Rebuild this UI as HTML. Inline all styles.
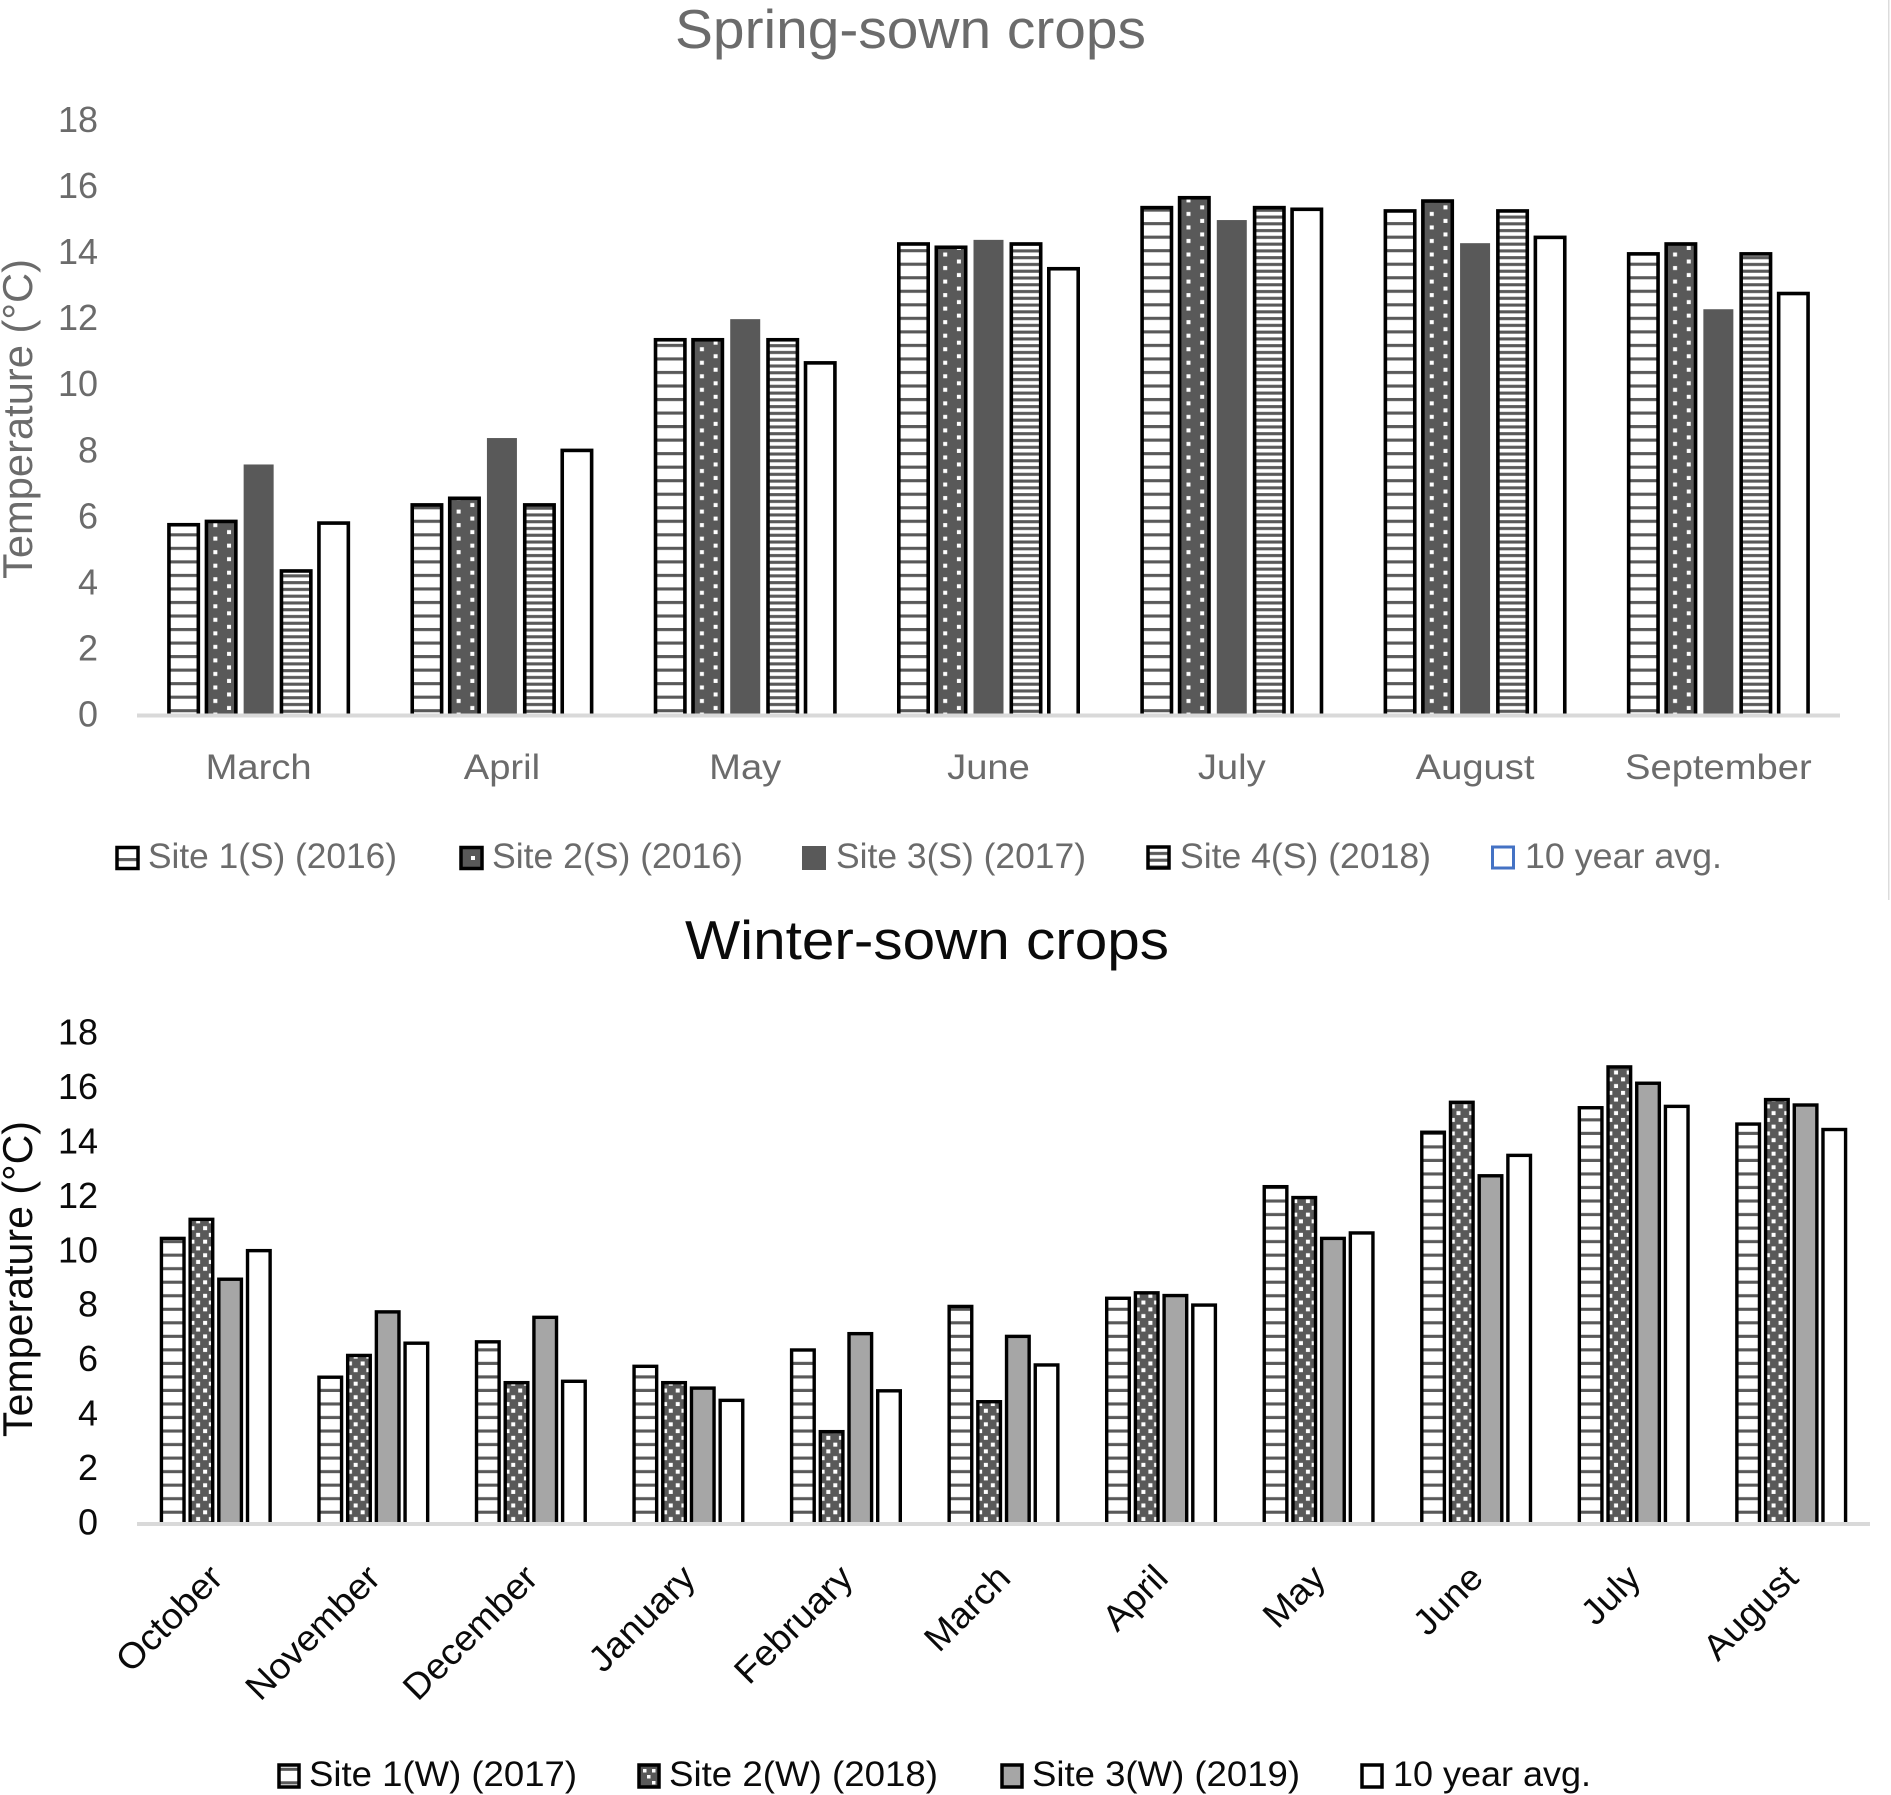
<!DOCTYPE html>
<html lang="en">
<head>
<meta charset="utf-8">
<title>Spring-sown and winter-sown crop temperatures</title>
<style>
html,body{margin:0;padding:0;background:#fff;}
svg{display:block;}
text{font-family:"Liberation Sans",sans-serif;}
.gray{fill:#6b6b6b;}
.dark{fill:#0a0a0a;}
</style>
</head>
<body>
<svg id="root" xmlns="http://www.w3.org/2000/svg" width="1891" height="1795" viewBox="0 0 1891 1795">
  <defs id="defs">
    <pattern id="stripe-wide-top" patternUnits="userSpaceOnUse" x="0" y="713.5" width="10" height="13.53">
      <rect width="10" height="13.53" fill="#fff"/><rect y="9.2" width="10" height="3.1" fill="#595959"/>
    </pattern>
    <pattern id="stripe-fine-top" patternUnits="userSpaceOnUse" x="0" y="713.5" width="10" height="6.77">
      <rect width="10" height="6.77" fill="#fff"/><rect y="3" width="10" height="3.1" fill="#595959"/>
    </pattern>
    <pattern id="stripe-wide-bot" patternUnits="userSpaceOnUse" x="0" y="1522" width="10" height="13.53">
      <rect width="10" height="13.53" fill="#fff"/><rect y="2.2" width="10" height="3.1" fill="#595959"/>
    </pattern>
  </defs>
  <rect width="1891" height="1795" fill="#fff"/>
  <rect x="1888" y="0" width="1.5" height="900" fill="#dcdcdc"/>

  <text class="gray" x="675" y="48" font-size="55" textLength="471" lengthAdjust="spacingAndGlyphs">Spring-sown crops</text>
  <text class="gray" transform="translate(32,579) rotate(-90)" font-size="42" textLength="320" lengthAdjust="spacingAndGlyphs">Temperature (°C)</text>
  <g id="spring"></g>

  <g font-size="35" class="gray">
    <g>
      <rect x="117" y="847.5" width="21" height="21" fill="url(#stripe-wide-top)" stroke="#000" stroke-width="3.5"/>
      <text class="gray" x="148" y="868" textLength="249" lengthAdjust="spacingAndGlyphs">Site 1(S) (2016)</text>
    </g>
    <g>
      <rect x="461" y="847.5" width="21" height="21" fill="#595959" stroke="#000" stroke-width="3.5"/>
      <rect x="471" y="856" width="4" height="4" fill="#fff"/>
      <text class="gray" x="492" y="868" textLength="251" lengthAdjust="spacingAndGlyphs">Site 2(S) (2016)</text>
    </g>
    <g>
      <rect x="802" y="846" width="24" height="24" fill="#595959"/>
      <text class="gray" x="836" y="868" textLength="250" lengthAdjust="spacingAndGlyphs">Site 3(S) (2017)</text>
    </g>
    <g>
      <rect x="1148" y="847" width="21" height="21" fill="url(#stripe-fine-top)" stroke="#000" stroke-width="3.5"/>
      <text class="gray" x="1180" y="868" textLength="251" lengthAdjust="spacingAndGlyphs">Site 4(S) (2018)</text>
    </g>
    <g>
      <rect x="1492.5" y="847" width="21" height="21" fill="#fff" stroke="#4472c4" stroke-width="3"/>
      <text class="gray" x="1525" y="868" textLength="197" lengthAdjust="spacingAndGlyphs">10 year avg.</text>
    </g>
  </g>

  <text class="dark" x="685" y="959" font-size="55" textLength="484" lengthAdjust="spacingAndGlyphs">Winter-sown crops</text>
  <text class="dark" transform="translate(32,1437) rotate(-90)" font-size="42" textLength="316" lengthAdjust="spacingAndGlyphs">Temperature (°C)</text>
  <g id="winter"></g>

  <g font-size="35">
    <g>
      <rect x="279" y="1765" width="20" height="22" fill="url(#stripe-wide-bot)" stroke="#000" stroke-width="3.5"/>
      <text class="dark" x="309" y="1786" textLength="268" lengthAdjust="spacingAndGlyphs">Site 1(W) (2017)</text>
    </g>
    <g>
      <rect x="639" y="1765" width="20" height="22" fill="#595959" stroke="#000" stroke-width="3.5"/>
      <rect x="643" y="1769" width="3.5" height="3.5" fill="#fff"/>
      <rect x="652" y="1769" width="3.5" height="3.5" fill="#fff"/>
      <rect x="647" y="1775" width="3.5" height="3.5" fill="#fff"/>
      <rect x="652" y="1781" width="3.5" height="3.5" fill="#fff"/>
      <text class="dark" x="669" y="1786" textLength="269" lengthAdjust="spacingAndGlyphs">Site 2(W) (2018)</text>
    </g>
    <g>
      <rect x="1002" y="1765" width="20" height="22" fill="#a6a6a6" stroke="#000" stroke-width="3.5"/>
      <text class="dark" x="1032" y="1786" textLength="268" lengthAdjust="spacingAndGlyphs">Site 3(W) (2019)</text>
    </g>
    <g>
      <rect x="1362" y="1765" width="20" height="22" fill="#fff" stroke="#000" stroke-width="3.5"/>
      <text class="dark" x="1393" y="1786" textLength="198" lengthAdjust="spacingAndGlyphs">10 year avg.</text>
    </g>
  </g>
</svg>

<script>
var yTicks = [0, 2, 4, 6, 8, 10, 12, 14, 16, 18];

var springMonths = ["March", "April", "May", "June", "July", "August", "September"];
var springSite1 = [5.8, 6.4, 11.4, 14.3, 15.4, 15.3, 14.0];
var springSite2 = [5.9, 6.6, 11.4, 14.2, 15.7, 15.6, 14.3];
var springSite3 = [7.6, 8.4, 12.0, 14.4, 15.0, 14.3, 12.3];
var springSite4 = [4.4, 6.4, 11.4, 14.3, 15.4, 15.3, 14.0];
var springAvg = [5.85, 8.05, 10.7, 13.55, 15.35, 14.5, 12.8];

var winterMonths = ["October", "November", "December", "January", "February", "March", "April", "May", "June", "July", "August"];
var winterSite1 = [10.5, 5.4, 6.7, 5.8, 6.4, 8.0, 8.3, 12.4, 14.4, 15.3, 14.7];
var winterSite2 = [11.2, 6.2, 5.2, 5.2, 3.4, 4.5, 8.5, 12.0, 15.5, 16.8, 15.6];
var winterSite3 = [9.0, 7.8, 7.6, 5.0, 7.0, 6.9, 8.4, 10.5, 12.8, 16.2, 15.4];
var winterAvg = [10.05, 6.65, 5.25, 4.55, 4.9, 5.85, 8.05, 10.7, 13.55, 15.35, 14.5];

var NS = "http://www.w3.org/2000/svg";
var defs = document.getElementById("defs");
var patternCount = 0;

function svgEl(tag, parent) {
  var el = document.createElementNS(NS, tag);
  parent.appendChild(el);
  return el;
}

function setAll(el, props) {
  for (var k in props) el.setAttribute(k, props[k]);
}

function dotPattern(barLeft, baseY, pw, ph, dots) {
  patternCount += 1;
  var id = "dots-" + patternCount;
  var p = svgEl("pattern", defs);
  setAll(p, {id: id, patternUnits: "userSpaceOnUse", x: barLeft, y: baseY, width: pw, height: ph});
  var bg = svgEl("rect", p);
  setAll(bg, {width: pw, height: ph, fill: "#595959"});
  dots.forEach(function (d) {
    var r = svgEl("rect", p);
    setAll(r, {x: d[0], y: d[1], width: 4, height: 4, fill: "#fff"});
  });
  return "url(#" + id + ")";
}

function drawChart(rootId, cfg, months, seriesList) {
  var root = document.getElementById(rootId);
  var groupW = (cfg.x1 - cfg.x0) / months.length;
  function xCenter(i) { return cfg.x0 + groupW * (i + 0.5); }
  function yScale(v) { return cfg.y0 - v * cfg.unit; }

  yTicks.forEach(function (t) {
    var label = svgEl("text", root);
    setAll(label, {x: 98, y: yScale(t) + 12, "text-anchor": "end", "font-size": 36, fill: cfg.textColor});
    
    
    label.textContent = String(t);
  });

  var n = seriesList.length;
  seriesList.forEach(function (s, si) {
    s.values.forEach(function (v, mi) {
      var left = xCenter(mi) + (si - (n - 1) / 2) * cfg.pitch - cfg.barW / 2;
      var top = yScale(v);
      var bar = svgEl("rect", root);
      var fill = s.fill;
      if (s.dots) fill = dotPattern(left, cfg.dotBase, s.dots.w, s.dots.h, s.dots.list);
      if (s.noStroke) {
        setAll(bar, {x: left + 1.5, y: top + 1, width: cfg.barW - 3, height: cfg.axisY - top, fill: fill});
      } else {
        setAll(bar, {x: left + cfg.sw / 2, y: top + cfg.sw / 2, width: cfg.barW - cfg.sw, height: cfg.axisY - top, fill: fill, stroke: "#000", "stroke-width": cfg.sw});
      }
      
      
    });
  });

  var axis = svgEl("rect", root);
  setAll(axis, {x: cfg.x0, y: cfg.axisY, width: cfg.x1 - cfg.x0, height: 4, fill: "#d9d9d9"});
  
  

  months.forEach(function (m, i) {
    var label = svgEl("text", root);
    
    
    label.textContent = m;
    if (cfg.rotate) {
      setAll(label, {"text-anchor": "end", "font-size": 36, fill: cfg.textColor,
        transform: "translate(" + (xCenter(i) + 9) + "," + cfg.labelY + ") rotate(-45)"});
      var rotatedNatural = label.getComputedTextLength();
      setAll(label, {textLength: rotatedNatural * 1.04, lengthAdjust: "spacingAndGlyphs"});
    } else {
      setAll(label, {x: xCenter(i), y: cfg.labelY, "text-anchor": "middle", "font-size": 35, fill: cfg.textColor});
      var natural = label.getComputedTextLength();
      setAll(label, {textLength: natural * 1.09, lengthAdjust: "spacingAndGlyphs"});
    }
  });
}

drawChart("spring", {
  x0: 137, x1: 1840, y0: 714.5, unit: 33.03, axisY: 713.5, dotBase: 710.5,
  pitch: 37.5, barW: 33, sw: 3.6, labelY: 779, textColor: "#6b6b6b", rotate: false
}, springMonths, [
  {values: springSite1, fill: "url(#stripe-wide-top)"},
  {values: springSite2, dots: {w: 27.4, h: 13.53, list: [[8.7, 2.03], [22.4, 9.03]]}},
  {values: springSite3, fill: "#595959", noStroke: true},
  {values: springSite4, fill: "url(#stripe-fine-top)"},
  {values: springAvg, fill: "#fff"}
]);

drawChart("winter", {
  x0: 137, x1: 1870, y0: 1522.5, unit: 27.22, axisY: 1522, dotBase: 1521.5,
  pitch: 28.7, barW: 26, sw: 3.4, labelY: 1580, textColor: "#0a0a0a", rotate: true
}, winterMonths, [
  {values: winterSite1, fill: "url(#stripe-wide-bot)"},
  {values: winterSite2, dots: {w: 12.7, h: 13.53, list: [[2, 2.33], [7.7, 9.03]]}},
  {values: winterSite3, fill: "#a6a6a6"},
  {values: winterAvg, fill: "#fff"}
]);
</script>
</body>
</html>
